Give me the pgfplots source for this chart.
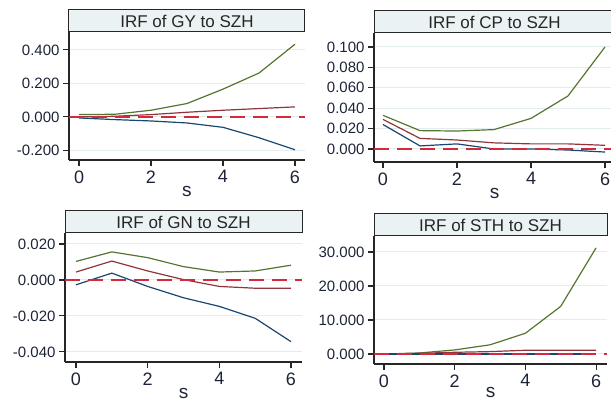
\documentclass[border=0pt]{standalone}
\usepackage{fontspec}
\setmainfont{Liberation Sans}
\usepackage{pgfplots}
\pgfplotsset{compat=1.18}
\definecolor{cgreen}{HTML}{55752F}
\definecolor{cred}{HTML}{90353B}
\definecolor{cblue}{HTML}{1A476F}
\definecolor{czero}{HTML}{D42A3E}
\definecolor{cgrid}{HTML}{E3ECEF}
\definecolor{ctitle}{HTML}{EAF2F3}
\definecolor{ctext}{HTML}{1E2438}
\pgfplotsset{irf/.style={
 scale only axis,
 axis lines*=left,
 axis line style={-, line width=1.1pt, color=black!85},
 tick align=outside,
 major tick length=6pt,
 tick style={line width=1.1pt, color=black!85},
 xtick={0,2,4,6},
 scaled y ticks=false,
 scaled x ticks=false,
 ymajorgrids,
 major grid style={color=cgrid, line width=1pt},
 yticklabel style={font=\fontsize{15}{15}\selectfont, color=ctext},
 xticklabel style={font=\fontsize{18}{18}\selectfont, color=ctext, yshift=-1pt},
 /pgf/number format/assume math mode=true,
 xlabel={s},
 xlabel style={font=\fontsize{19}{19}\selectfont, color=ctext, at={(axis description cs:0.5,0)}, anchor=north, inner sep=0pt, yshift=-26pt},
 every axis title shift=0pt,
 title style={at={(0.5,1)}, anchor=south, yshift=0pt, draw=black!85, line width=1pt, fill=ctitle, inner sep=0pt, outer sep=0pt, minimum height=22pt, font=\fontsize{17}{17}\selectfont, text=black!85},
 every axis plot/.append style={line width=1.2pt, mark=none},
 zero/.style={color=czero, line width=1.2pt, dash pattern=on 15pt off 8pt},
}}
\begin{document}
\begin{tikzpicture}
\path[use as bounding box] (0pt,0pt) rectangle (611pt,401pt);
% Panel 1: GY
\begin{axis}[irf, at={(69pt,241pt)}, anchor=south west, width=236pt, height=128pt,
 xmin=-0.278, xmax=6.278, ymin=-0.257, ymax=0.507,
 ytick={-0.2,0,0.2,0.4}, yticklabels={-0.200,0.000,0.200,0.400},
 title={IRF of GY to SZH}, title style={minimum width=236pt}]
\addplot[cgreen] coordinates {(0,0.014) (1,0.016) (2,0.040) (3,0.080) (4,0.166) (5,0.262) (6,0.434)};
\addplot[cred] coordinates {(0,0.000) (1,0.004) (2,0.014) (3,0.028) (4,0.040) (5,0.050) (6,0.060)};
\addplot[cblue] coordinates {(0,-0.006) (1,-0.016) (2,-0.024) (3,-0.036) (4,-0.062) (5,-0.124) (6,-0.196)};
\addplot[zero] coordinates {(-0.278,0) (6.278,0)};
\end{axis}
% Panel 2: CP
\begin{axis}[irf, at={(374pt,239pt)}, anchor=south west, width=241pt, height=129pt,
 xmin=-0.243, xmax=6.27, ymin=-0.01275, ymax=0.1137,
 ytick={0,0.02,0.04,0.06,0.08,0.1}, yticklabels={0.000,0.020,0.040,0.060,0.080,0.100},
 title={IRF of CP to SZH}, title style={minimum width=241pt}]
\addplot[cgreen] coordinates {(0,0.033) (1,0.018) (2,0.0176) (3,0.019) (4,0.030) (5,0.052) (6,0.100)};
\addplot[cred] coordinates {(0,0.029) (1,0.0104) (2,0.0088) (3,0.006) (4,0.005) (5,0.005) (6,0.0036)};
\addplot[cblue] coordinates {(0,0.024) (1,0.003) (2,0.005) (3,0.000) (4,0.000) (5,-0.001) (6,-0.003)};
\addplot[zero] coordinates {(-0.243,0) (6.27,0)};
\end{axis}
% Panel 3: GN
\begin{axis}[irf, at={(65pt,39pt)}, anchor=south west, width=237pt, height=129pt,
 xmin=-0.307, xmax=6.307, ymin=-0.0456, ymax=0.0261,
 ytick={-0.04,-0.02,0,0.02}, yticklabels={-0.040,-0.020,0.000,0.020},
 title={IRF of GN to SZH}, title style={minimum width=237pt}]
\addplot[cgreen] coordinates {(0,0.0103) (1,0.0156) (2,0.0124) (3,0.0074) (4,0.0044) (5,0.0050) (6,0.0082)};
\addplot[cred] coordinates {(0,0.0044) (1,0.0105) (2,0.0050) (3,0.0002) (4,-0.0036) (5,-0.0046) (6,-0.0046)};
\addplot[cblue] coordinates {(0,-0.0027) (1,0.0038) (2,-0.0036) (3,-0.0099) (4,-0.0147) (5,-0.0213) (6,-0.0343)};
\addplot[zero] coordinates {(-0.307,0) (6.307,0)};
\end{axis}
% Panel 4: STH
\begin{axis}[irf, at={(374pt,37pt)}, anchor=south west, width=233pt, height=128pt,
 xmin=-0.283, xmax=6.31, ymin=-2.94, ymax=34.7,
 ytick={0,10,20,30}, yticklabels={0.000,10.000,20.000,30.000},
 xlabel style={yshift=2.5pt},
 title={IRF of STH to SZH}, title style={minimum width=233pt}]
\addplot[cgreen] coordinates {(0,0.0) (1,0.3) (2,1.2) (3,2.7) (4,6.1) (5,14.0) (6,31.2)};
\addplot[cred] coordinates {(0,0.0) (1,0.2) (2,0.5) (3,0.7) (4,1.1) (5,1.1) (6,1.1)};
\addplot[cblue] coordinates {(0,0.0) (1,0.0) (2,0.0) (3,0.0) (4,0.0) (5,0.0) (6,0.0)};
\addplot[zero] coordinates {(-0.283,0) (6.31,0)};
\end{axis}
\end{tikzpicture}
\end{document}
